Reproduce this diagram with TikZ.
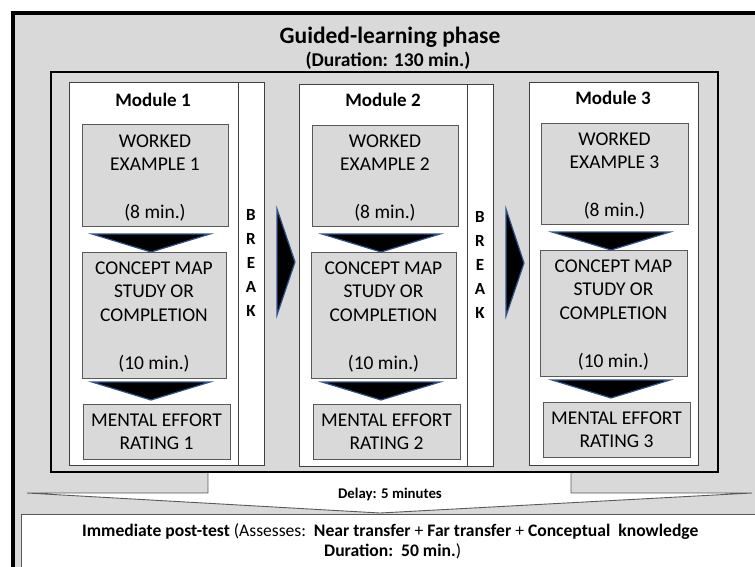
\documentclass[tikz,border=0pt]{standalone}
\usepackage{fontspec}
\setmainfont{Carlito}
\definecolor{gfill}{RGB}{217,217,217}
\definecolor{bline}{RGB}{89,89,89}
\definecolor{mline}{RGB}{64,64,64}
\definecolor{chevblue}{RGB}{47,82,143}
\begin{document}
\begin{tikzpicture}[x=1pt,y=-1pt,
  modbox/.style={draw=mline,line width=0.9pt,fill=white},
  taskbox/.style={draw=bline,line width=0.9pt,fill=gfill,inner sep=0pt,align=center,font=\fontsize{19.5}{23.3}\selectfont},
  tasktext/.style={inner sep=0pt,align=center,font=\fontsize{19.5}{23.3}\selectfont},
  modtitle/.style={font=\bfseries\fontsize{19}{22}\selectfont},
  breaktxt/.style={font=\bfseries\fontsize{17}{24}\selectfont,align=center},
  chev/.style={fill=black,draw=chevblue,line width=1.2pt,line join=miter}]
\useasboundingbox (0,0) rectangle (755,566);
% outer phase panel
\path[fill=gfill,draw=black,line width=4pt] (13,13) rectangle (790,600);
\node[font=\bfseries\fontsize{23.5}{27}\selectfont] (title) at (390,37) {Guided-learning phase};
\node[font=\bfseries\fontsize{19.5}{22}\selectfont] (dur) at (388,61) {(Duration: 130 min.)};
% delay callout
\path[fill=white,draw=bline,line width=0.9pt] (208,472) -- (208,493) -- (27,493) -- (380,513) -- (752,493) -- (571,493) -- (571,472);
\node[font=\bfseries\fontsize{14.8}{18}\selectfont] (delay) at (390,494) {Delay: 5 minutes};
% guided phase box
\path[fill=gfill,draw=black,line width=2pt] (51,72) rectangle (718,472);
% modules
\path[modbox] (69,82) rectangle (238,465);
\path[modbox] (238,82) rectangle (264,465);
\path[modbox] (299,84) rectangle (467,466);
\path[modbox] (467,84) rectangle (493,466);
\path[modbox] (529,82) rectangle (698,465);
\node[modtitle] (m1) at (153,100) {Module 1};
\node[modtitle] (m2) at (383,100) {Module 2};
\node[modtitle] (m3) at (613,98) {Module 3};
% module 1 tasks
\node[taskbox,minimum width=146pt,minimum height=102pt] (w1) at (155,175) {};
\node[tasktext] (w1t) at (155,178) {WORKED\\EXAMPLE 1\\[24pt](8 min.)};
\node[taskbox,minimum width=144pt,minimum height=126pt] (c1) at (154,315) {};
\node[tasktext] (c1t) at (154,317) {CONCEPT MAP\\STUDY OR\\COMPLETION\\[25pt](10 min.)};
\node[taskbox,minimum width=147pt,minimum height=55pt] (r1) at (156.5,431.5) {MENTAL EFFORT\\RATING 1};
% module 2 tasks
\node[taskbox,minimum width=146pt,minimum height=101pt] (w2) at (385,175.5) {};
\node[tasktext] (w2t) at (385,178) {WORKED\\EXAMPLE 2\\[24pt](8 min.)};
\node[taskbox,minimum width=145pt,minimum height=126pt] (c2) at (383.5,315) {};
\node[tasktext] (c2t) at (383.5,317) {CONCEPT MAP\\STUDY OR\\COMPLETION\\[25pt](10 min.)};
\node[taskbox,minimum width=147pt,minimum height=55pt] (r2) at (386.5,431.5) {MENTAL EFFORT\\RATING 2};
% module 3 tasks
\node[taskbox,minimum width=147pt,minimum height=101pt] (w3) at (614.5,173.5) {};
\node[tasktext] (w3t) at (614.5,176) {WORKED\\EXAMPLE 3\\[24pt](8 min.)};
\node[taskbox,minimum width=147pt,minimum height=126pt] (c3) at (613.5,313) {};
\node[tasktext] (c3t) at (613.5,315) {CONCEPT MAP\\STUDY OR\\COMPLETION\\[25pt](10 min.)};
\node[taskbox,minimum width=147pt,minimum height=55pt] (r3) at (616.5,429.5) {MENTAL EFFORT\\RATING 3};
% down chevrons
\path[chev] (92,234) -- (210,234) -- (151,252) -- cycle;
\path[chev] (92,382) -- (210,382) -- (151,400) -- cycle;
\path[chev] (322,234) -- (440,234) -- (381,252) -- cycle;
\path[chev] (322,382) -- (440,382) -- (381,400) -- cycle;
\path[chev] (552,232) -- (670,232) -- (611,250) -- cycle;
\path[chev] (552,380) -- (670,380) -- (611,398) -- cycle;
% break labels
\node[breaktxt] (b1) at (251,263) {B\\R\\E\\A\\K};
\node[breaktxt] (b2) at (480,265) {B\\R\\E\\A\\K};
% right arrows
\path[chev] (277,209) -- (295,262) -- (277,315) -- cycle;
\path[chev] (506,209) -- (524,263) -- (506,316) -- cycle;
% post-test box
\path[fill=white,draw=bline,line width=0.9pt] (21,514) rectangle (790,600);
\node[anchor=base west,inner sep=0pt,font=\fontsize{17.6}{20}\selectfont] (post1) at (82,536) {\textbf{Immediate post-test} (Assesses:\ \ \textbf{Near transfer} + \textbf{Far transfer} + \textbf{Conceptual\ \ knowledge}};
\node[anchor=base west,inner sep=0pt,font=\fontsize{17.6}{20}\selectfont] (post2) at (324,556) {\textbf{Duration:\ \ 50 min.})};
\end{tikzpicture}
\end{document}
